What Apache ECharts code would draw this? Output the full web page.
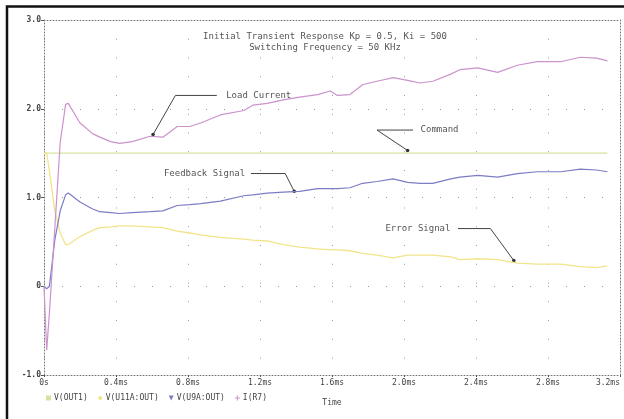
<!DOCTYPE html>
<html>
<head>
<meta charset="utf-8">
<script src="https://cdn.jsdelivr.net/npm/echarts@6/dist/echarts.min.js"></script>
<style>
  html, body { margin: 0; padding: 0; background: #fff; }
  #chart { width: 624px; height: 419px; }
</style>
</head>
<body>
<div id="chart"></div>
<script>
// time in ms, shared by the three traces
var timeMs = [0, 0.015, 0.03, 0.06, 0.09, 0.12, 0.135, 0.2, 0.27, 0.31, 0.37, 0.42, 0.49, 0.59, 0.66,
    0.74, 0.81, 0.87, 0.98, 1.11, 1.16, 1.24, 1.33, 1.42, 1.52, 1.59, 1.63, 1.7, 1.77, 1.85, 1.94,
    2.02, 2.09, 2.16, 2.26, 2.31, 2.41, 2.52, 2.63, 2.74, 2.87, 2.98, 3.07, 3.13];

var loadCurrent = [0, -0.72, -0.3, 0.65, 1.62, 2.05, 2.06, 1.84, 1.72, 1.68, 1.63, 1.61, 1.63, 1.69, 1.68,
    1.80, 1.80, 1.84, 1.93, 1.98, 2.04, 2.06, 2.10, 2.13, 2.16, 2.20, 2.15, 2.16, 2.27, 2.31, 2.35,
    2.32, 2.29, 2.31, 2.39, 2.44, 2.46, 2.41, 2.49, 2.53, 2.53, 2.58, 2.57, 2.54];

var feedback = [0, -0.03, 0.0, 0.52, 0.85, 1.03, 1.05, 0.95, 0.87, 0.84, 0.83, 0.82, 0.83, 0.84, 0.85,
    0.91, 0.92, 0.93, 0.96, 1.02, 1.03, 1.05, 1.06, 1.07, 1.10, 1.10, 1.10, 1.11, 1.16, 1.18, 1.21,
    1.17, 1.16, 1.16, 1.21, 1.23, 1.25, 1.23, 1.27, 1.29, 1.29, 1.32, 1.31, 1.29];

var errorSignal = [1.5, 1.5, 1.3, 0.85, 0.6, 0.47, 0.47, 0.56, 0.63, 0.66, 0.67, 0.68, 0.68, 0.67, 0.66,
    0.62, 0.60, 0.58, 0.55, 0.53, 0.52, 0.51, 0.47, 0.44, 0.42, 0.41, 0.41, 0.40, 0.37, 0.35, 0.32,
    0.35, 0.35, 0.35, 0.33, 0.30, 0.31, 0.30, 0.26, 0.25, 0.25, 0.22, 0.21, 0.23];

var commandTime = [0, 3.13];
var command = [1.5, 1.5];

var xTicks = [0, 0.4, 0.8, 1.2, 1.6, 2.0, 2.4, 2.8, 3.2];
var yTicks = [-1, 0, 1, 2, 3];

var traceNames = ['V(OUT1)', 'V(U11A:OUT)', 'V(U9A:OUT)', 'I(R7)'];
var titleLines = ['Initial Transient Response Kp = 0.5, Ki = 500', 'Switching Frequency = 50 KHz'];

// callouts: label, label anchor [t, v], line start, elbow, arrow tip
var callouts = [
    { text: 'Load Current', at: [0.99, 2.15], from: [0.96, 2.15], elbow: [0.73, 2.15], tip: [0.606, 1.71], side: 'right' },
    { text: 'Command', at: [2.07, 1.76], from: [2.05, 1.76], elbow: [1.85, 1.76], tip: [2.02, 1.53], side: 'right' },
    { text: 'Feedback Signal', at: [1.14, 1.27], from: [1.15, 1.27], elbow: [1.34, 1.27], tip: [1.39, 1.07], side: 'left' },
    { text: 'Error Signal', at: [2.28, 0.65], from: [2.3, 0.65], elbow: [2.48, 0.65], tip: [2.61, 0.29], side: 'left' }
];

var mono = 'DejaVu Sans Mono';

const drawChart = () => {
    var chart = echarts.init(document.getElementById('chart'), null, { renderer: 'canvas' });

    const pairs = (xs, ys) => xs.map((x, i) => [x, ys[i]]);
    const xLabel = (v) => Math.abs(v) < 1e-9 ? '0s' : v.toFixed(1) + 'ms';
    const yLabel = (v) => v === 0 ? '0' : v.toFixed(1);

    var dotted = { color: '#777', width: 1, type: [1, 2] };

    var option = {
        animation: false,
        backgroundColor: '#fff',
        title: {
            text: titleLines.join('\n'),
            left: 320,
            top: 26,
            textAlign: 'center',
            textStyle: { fontFamily: mono, fontSize: 9, fontWeight: 'normal', color: '#555', lineHeight: 11 }
        },
        legend: {
            left: 41,
            top: 389,
            itemWidth: 5,
            itemHeight: 5,
            itemGap: 10,
            textStyle: { fontFamily: mono, fontSize: 8, color: '#444', padding: [0, 0, 0, -2] },
            data: [
                { name: traceNames[0], icon: 'rect' },
                { name: traceNames[1], icon: 'diamond' },
                { name: traceNames[2], icon: 'path://M0,0L10,0L5,10Z' },
                { name: traceNames[3], icon: 'path://M4,0H6V4H10V6H6V10H4V6H0V4H4Z' }
            ]
        },
        grid: { left: 44, right: 4, top: 20, bottom: 44 },
        xAxis: [{
            type: 'value',
            min: 0,
            max: 3.2,
            interval: 0.4,
            name: 'Time',
            nameLocation: 'middle',
            nameGap: 24,
            nameTextStyle: { fontFamily: mono, fontSize: 8, color: '#444' },
            axisLine: { onZero: false, lineStyle: dotted },
            axisTick: { show: true, length: 2, lineStyle: { color: '#555' } },
            axisLabel: {
                formatter: xLabel, margin: 4, fontFamily: mono, fontSize: 8, color: '#444',
                customValues: xTicks, alignMaxLabel: 'right'
            },
            splitLine: { show: true, lineStyle: { color: '#999', width: 1, type: [1, 17.75] } }
        }, {
            type: 'value', position: 'top', min: 0, max: 3.2, interval: 0.4,
            axisLine: { onZero: false, lineStyle: dotted }, axisTick: { show: false }, axisLabel: { show: false },
            splitLine: { show: false }
        }],
        yAxis: [{
            type: 'value',
            min: -1,
            max: 3,
            interval: 1,
            axisLine: { show: true, onZero: false, lineStyle: dotted },
            axisTick: { show: true, length: 3, lineStyle: { color: '#555' } },
            axisLabel: {
                formatter: yLabel, margin: 3, fontFamily: mono, fontSize: 8, fontWeight: 'bold', color: '#444',
                customValues: yTicks
            },
            splitLine: { show: true, lineStyle: { color: '#999', width: 1, type: [1, 17] } }
        }, {
            type: 'value', position: 'right', min: -1, max: 3, interval: 1,
            axisLine: { show: true, onZero: false, lineStyle: dotted }, axisTick: { show: false }, axisLabel: { show: false },
            splitLine: { show: false }
        }],
        series: [
            {
                name: traceNames[0], type: 'line', showSymbol: false, data: pairs(commandTime, command),
                itemStyle: { color: '#d4e4a0' }, lineStyle: { color: '#d4e4a0', width: 1.3 }
            },
            {
                name: traceNames[1], type: 'line', showSymbol: false, data: pairs(timeMs, errorSignal),
                itemStyle: { color: '#f2e48a' }, lineStyle: { color: '#f2e48a', width: 1.3 }
            },
            {
                name: traceNames[2], type: 'line', showSymbol: false, data: pairs(timeMs, feedback),
                itemStyle: { color: '#7c7cc4' }, lineStyle: { color: '#7c7cc4', width: 1.2 }
            },
            {
                name: traceNames[3], type: 'line', showSymbol: false, data: pairs(timeMs, loadCurrent),
                itemStyle: { color: '#cc92cc' }, lineStyle: { color: '#cc92cc', width: 1.2 }
            }
        ]
    };

    chart.setOption(option);

    // callout lines placed through the axes
    const px = (p) => chart.convertToPixel({ xAxisIndex: 0, yAxisIndex: 0 }, p);
    var elements = [{
        type: 'rect',
        shape: { x: 7, y: 6.5, width: 700, height: 500 },
        style: { fill: null, stroke: '#111', lineWidth: 2.5 },
        silent: true
    }];
    callouts.forEach((c) => {
        var a = px(c.at), s = px(c.from), e = px(c.elbow), t = px(c.tip);
        elements.push({
            type: 'polyline',
            shape: { points: [s, e, t] },
            style: { stroke: '#444', lineWidth: 1, fill: null }
        });
        elements.push({
            type: 'circle',
            shape: { cx: t[0], cy: t[1], r: 1.8 },
            style: { fill: '#333' }
        });
        elements.push({
            type: 'text',
            x: a[0] + (c.side === 'right' ? 4 : -4),
            y: a[1],
            style: {
                text: c.text, fontFamily: mono, fontSize: 9, fill: '#555',
                align: c.side === 'right' ? 'left' : 'right', verticalAlign: 'middle'
            }
        });
    });
    chart.setOption({ graphic: elements });
};

drawChart();
</script>
</body>
</html>
